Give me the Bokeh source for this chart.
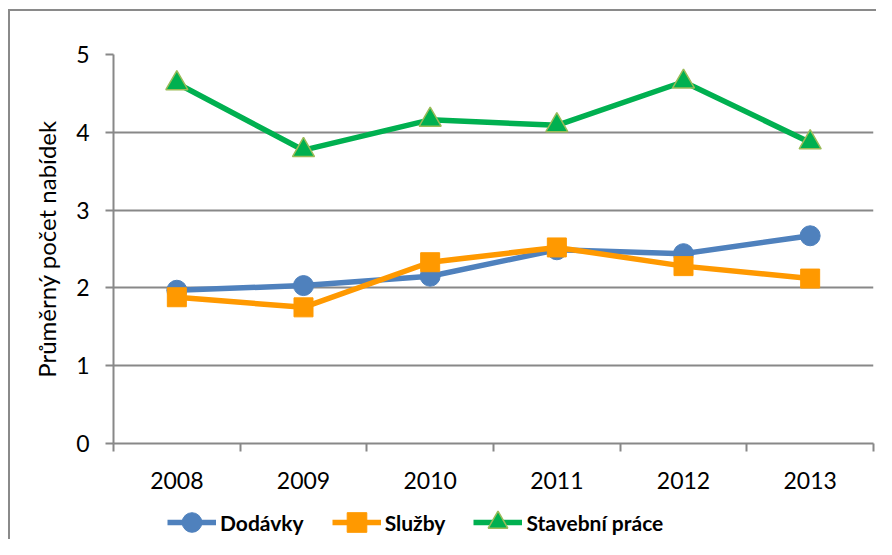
from bokeh.plotting import figure
from bokeh.layouts import column
from bokeh.models import FixedTicker, Legend, LegendItem, Range1d
from bokeh.embed import file_html
from bokeh.resources import INLINE

years = [2008, 2009, 2010, 2011, 2012, 2013]
dodavky = [1.97, 2.03, 2.15, 2.49, 2.44, 2.67]
sluzby = [1.88, 1.75, 2.33, 2.52, 2.28, 2.12]
stavebni = [4.63, 3.77, 4.16, 4.09, 4.65, 3.87]
y_ticks = [0, 1, 2, 3, 4, 5]
y_label = "Průměrný počet nabídek"
names = ["Dodávky", "Služby", "Stavební práce"]

FONT = "Lato"
GRAY = "#888888"
blue, orange, green, olive = "#4F81BD", "#FF9900", "#00B050", "#9BBB59"

p = figure(width=866, height=481, output_backend="svg", toolbar_location=None,
           x_range=Range1d(years[0] - 0.5, years[-1] + 0.5), y_range=Range1d(0, 5),
           min_border_left=103, min_border_top=43, min_border_right=3, min_border_bottom=49)
p.outline_line_color = None
p.xgrid.grid_line_color = None
p.ygrid.grid_line_color = GRAY
p.ygrid.grid_line_width = 2
p.ygrid.ticker = FixedTicker(ticks=y_ticks)

p.xaxis.ticker = FixedTicker(ticks=years, minor_ticks=[y - 0.5 for y in years] + [years[-1] + 0.5])
p.xaxis.major_tick_out = 0
p.xaxis.major_tick_in = 0
p.xaxis.minor_tick_out = 8
p.xaxis.minor_tick_in = 0
p.xaxis.minor_tick_line_color = GRAY
p.xaxis.minor_tick_line_width = 2
p.xaxis.axis_line_color = GRAY
p.xaxis.axis_line_width = 2
p.xaxis.major_label_standoff = 20
p.xaxis.major_label_text_font = FONT
p.xaxis.major_label_text_font_size = "23px"
p.xaxis.major_label_text_color = "#000000"

p.yaxis.ticker = FixedTicker(ticks=y_ticks)
p.yaxis.minor_tick_line_color = None
p.yaxis.major_tick_out = 8
p.yaxis.major_tick_in = 0
p.yaxis.major_tick_line_color = GRAY
p.yaxis.major_tick_line_width = 2
p.yaxis.axis_line_color = GRAY
p.yaxis.axis_line_width = 2
p.yaxis.major_label_standoff = 16
p.yaxis.major_label_text_font = FONT
p.yaxis.major_label_text_font_size = "23px"
p.yaxis.major_label_text_color = "#000000"
p.yaxis.axis_label = y_label
p.yaxis.axis_label_text_font = FONT
p.yaxis.axis_label_text_font_size = "24px"
p.yaxis.axis_label_text_font_style = "normal"
p.yaxis.axis_label_text_color = "#000000"
p.yaxis.axis_label_standoff = 12

p.line(years, dodavky, line_color=blue, line_width=5.5)
p.scatter(years, dodavky, marker="circle", size=20, fill_color=blue, line_color=blue)
p.line(years, sluzby, line_color=orange, line_width=5.5)
p.scatter(years, sluzby, marker="square", size=19, fill_color=orange, line_color=orange)
p.line(years, stavebni, line_color=green, line_width=5.5)
p.scatter(years, stavebni, marker="triangle", size=22, fill_color=green, line_color=olive, line_width=1.5)

# legend strip below the chart (series drawn out of view, used only as legend glyphs)
q = figure(width=866, height=47, output_backend="svg", toolbar_location=None,
           x_range=p.x_range, y_range=Range1d(100, 101),
           min_border_left=103, min_border_right=3, min_border_top=0, min_border_bottom=0)
q.axis.visible = False
q.grid.grid_line_color = None
q.outline_line_color = None
e1 = q.line(years, dodavky, line_color=blue, line_width=5.5)
f1 = q.scatter(years, dodavky, marker="circle", size=20, fill_color=blue, line_color=blue)
e2 = q.line(years, sluzby, line_color=orange, line_width=5.5)
f2 = q.scatter(years, sluzby, marker="square", size=19, fill_color=orange, line_color=orange)
e3 = q.line(years, stavebni, line_color=green, line_width=5.5)
f3 = q.scatter(years, stavebni, marker="triangle", size=22, fill_color=green, line_color=olive, line_width=1.5)

legend = Legend(items=[LegendItem(label=names[0], renderers=[e1, f1]),
                       LegendItem(label=names[1], renderers=[e2, f2]),
                       LegendItem(label=names[2], renderers=[e3, f3])],
                orientation="horizontal", location=(54, -8),
                border_line_color=None, background_fill_alpha=0,
                label_text_font=FONT, label_text_font_size="21px", label_text_font_style="bold",
                label_text_color="#000000", glyph_width=49, glyph_height=50,
                label_standoff=4, spacing=28, margin=0, padding=2)
q.add_layout(legend, "center")

layout = column(p, q, spacing=0, margin=(9, 0, 0, 8),
                styles={"border-left": "2px solid #8a8a8a", "border-top": "2px solid #8a8a8a"})
open("out.html", "w").write(file_html(layout, INLINE))
